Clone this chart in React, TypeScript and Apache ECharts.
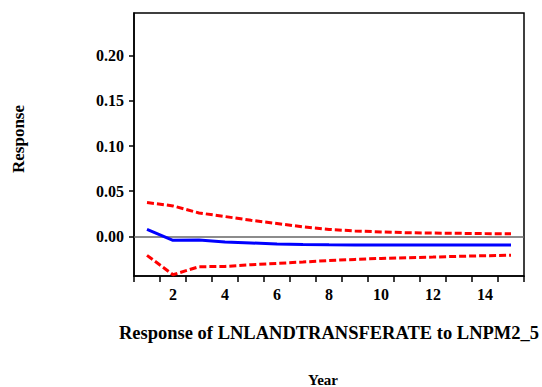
import React, { useEffect, useRef } from "react";
import * as echarts from "echarts";

// Impulse-response horizon (years)
const periods = ["1", "2", "3", "4", "5", "6", "7", "8", "9", "10", "11", "12", "13", "14", "15"];

// Point response of LNLANDTRANSFERATE to an LNPM2_5 shock
const response = [0.0078, -0.0044, -0.0040, -0.0063, -0.0074, -0.0085, -0.0090, -0.0094, -0.0096, -0.0097, -0.0097, -0.0097, -0.0096, -0.0096, -0.0096];

// ±2 S.E. bands
const upperBand = [0.0374, 0.0337, 0.0259, 0.0219, 0.0178, 0.0142, 0.0104, 0.0076, 0.0060, 0.0048, 0.0040, 0.0036, 0.0033, 0.0030, 0.0028];
const lowerBand = [-0.0211, -0.0426, -0.0337, -0.0334, -0.0315, -0.0300, -0.0285, -0.0268, -0.0256, -0.0245, -0.0237, -0.0230, -0.0222, -0.0215, -0.0210];

// Y tick labels
const yTicks = [0, 0.05, 0.1, 0.15, 0.2];

const FONT = "'Liberation Serif', 'Times New Roman', serif";

export default function App() {
  const ref = useRef<HTMLDivElement>(null);

  useEffect(() => {
    if (!ref.current) return;
    const chart = echarts.init(ref.current, null, { renderer: "svg" });
    chart.setOption({
      animation: false,
      backgroundColor: "#ffffff",
      title: [
        {
          text: "Response of LNLANDTRANSFERATE to LNPM2_5",
          left: 329,
          top: 323,
          padding: 0,
          textAlign: "center",
          textStyle: { fontFamily: FONT, fontWeight: "bold", fontSize: 18.5, color: "#000" },
        },
        {
          text: "Year",
          left: 323,
          top: 372,
          padding: 0,
          textAlign: "center",
          textStyle: { fontFamily: FONT, fontWeight: "bold", fontSize: 15, color: "#000" },
        },
      ],
      graphic: [
        {
          type: "text",
          x: 18,
          y: 139,
          rotation: Math.PI / 2,
          style: {
            text: "Response",
            fontFamily: FONT,
            fontWeight: "bold",
            fontSize: 17,
            fill: "#000",
            align: "center",
            verticalAlign: "middle",
          },
        },
      ],
      grid: {
        left: 134,
        right: 18,
        top: 13,
        bottom: 111,
        show: true,
        borderColor: "#000",
        borderWidth: 1.5,
        backgroundColor: "transparent",
      },
      xAxis: {
        type: "category",
        data: periods,
        boundaryGap: true,
        axisLine: { onZero: false, lineStyle: { color: "#000", width: 1.5 } },
        axisTick: { show: true, interval: 0, length: 6, inside: false, lineStyle: { color: "#000", width: 1.5 } },
        axisLabel: {
          interval: (index: number) => index % 2 === 1,
          margin: 10,
          fontFamily: FONT,
          fontWeight: "bold",
          fontSize: 16,
          color: "#000",
        },
        splitLine: { show: false },
      },
      yAxis: {
        type: "value",
        min: -0.044,
        max: 0.2475,
        axisLine: { show: true, onZero: false, lineStyle: { color: "#000", width: 1.5 } },
        axisTick: { show: true, length: 5, customValues: yTicks, lineStyle: { color: "#000", width: 1.5 } },
        axisLabel: {
          customValues: yTicks,
          formatter: (v: number) => v.toFixed(2),
          margin: 10,
          fontFamily: FONT,
          fontWeight: "bold",
          fontSize: 16,
          color: "#000",
        },
        splitLine: { show: false },
      },
      series: [
        {
          name: "Upper",
          type: "line",
          data: upperBand,
          symbol: "none",
          lineStyle: { color: "#ff0000", width: 3, type: [7, 3] },
          z: 3,
        },
        {
          name: "Lower",
          type: "line",
          data: lowerBand,
          symbol: "none",
          lineStyle: { color: "#ff0000", width: 3, type: [7, 3] },
          z: 3,
        },
        {
          name: "Response",
          type: "line",
          data: response,
          symbol: "none",
          lineStyle: { color: "#0000ff", width: 3 },
          z: 4,
          markLine: {
            silent: true,
            symbol: "none",
            label: { show: false },
            lineStyle: { color: "#666", width: 1.5, type: "solid" },
            data: [{ yAxis: 0 }],
            z: 2,
          },
        },
      ],
    });
    return () => chart.dispose();
  }, []);

  return <div ref={ref} style={{ position: "fixed", left: 0, top: 0, width: 542, height: 387 }} />;
}
